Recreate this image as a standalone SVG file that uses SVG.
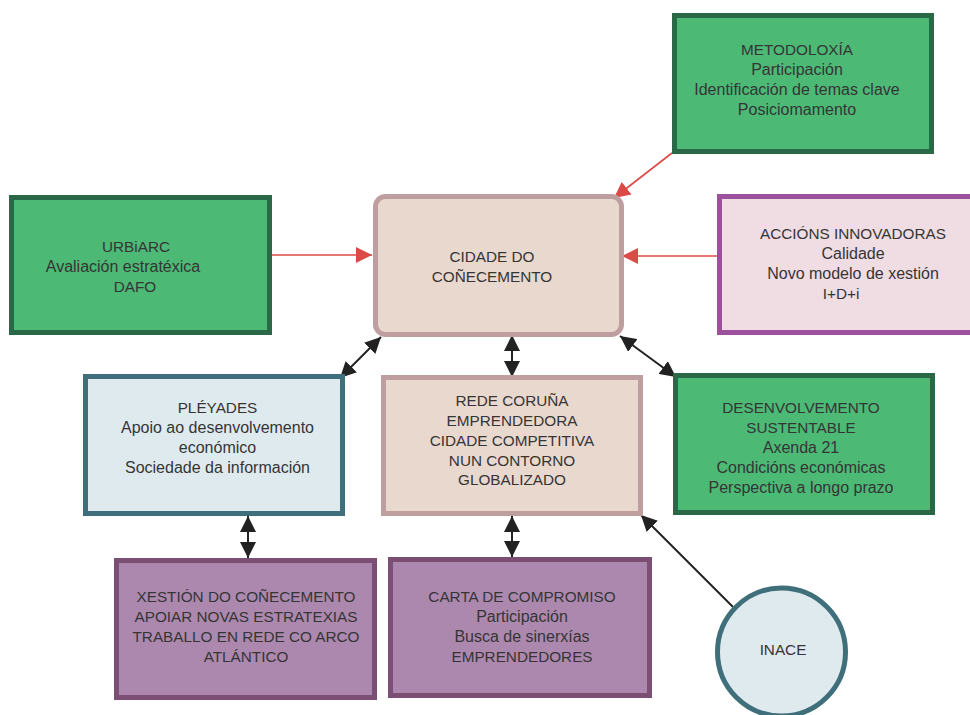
<svg xmlns="http://www.w3.org/2000/svg" width="970" height="715" viewBox="0 0 970 715">
<style>
text{font-family:"Liberation Sans",Arial,sans-serif;font-size:16px;fill:#353535;text-anchor:middle}
text.c{font-size:15.3px}
.green{fill:#4cb975;stroke:#2b6847;stroke-width:5}
.rose{fill:#e9d8ce;stroke:#bf9ea0;stroke-width:5}
.pink{fill:#f0dce3;stroke:#9c519c;stroke-width:5}
.teal{fill:#dfeaef;stroke:#3f6f7b;stroke-width:5}
.purple{fill:#ac88ae;stroke:#7b4f73;stroke-width:5}
.red{stroke:#dc4a46;stroke-width:1.6;fill:none;marker-end:url(#ar)}
.blk{stroke:#222;stroke-width:2;fill:none;marker-end:url(#ab)}
.dbl{marker-start:url(#ab)}
</style>
<defs>
<marker id="ar" viewBox="0 0 16 16" refX="16" refY="8" markerWidth="16" markerHeight="16" markerUnits="userSpaceOnUse" orient="auto"><path d="M0,0 L16,8 L0,16 z" fill="#dc4a46"/></marker>
<marker id="ab" viewBox="0 0 16 16" refX="16" refY="8" markerWidth="16" markerHeight="16" markerUnits="userSpaceOnUse" orient="auto-start-reverse"><path d="M0,0 L16,8 L0,16 z" fill="#222"/></marker>
</defs>
<g id="connectors">
<path class="red" d="M272,255 L372,255"/>
<path class="red" d="M717,256 L622,256"/>
<path class="red" d="M672,153 L614,198"/>
<path class="blk dbl" d="M381,337 L340,378"/>
<path class="blk dbl" d="M512,335 L512,377"/>
<path class="blk dbl" d="M620,336 L676,377"/>
<path class="blk dbl" d="M248,516 L248,558"/>
<path class="blk dbl" d="M512,516 L512,557"/>
<path class="blk" d="M733,607 L641,515"/>
</g>
<g id="metodoloxia">
<rect class="green" x="674.5" y="15.5" width="257" height="136"/>
<text class="c" x="797" y="55">METODOLOXÍA</text>
<text x="797" y="75">Participación</text>
<text x="797" y="95">Identificación de temas clave</text>
<text x="797" y="115">Posiciomamento</text>
</g>
<g id="urbiarc">
<rect class="green" x="11.5" y="197.5" width="258" height="135"/>
<text class="c" x="136" y="252">URBiARC</text>
<text x="123" y="272">Avaliación estratéxica</text>
<text class="c" x="135" y="292">DAFO</text>
</g>
<g id="cidade">
<rect class="rose" x="375.5" y="196.5" width="246" height="138" rx="10"/>
<text class="c" x="492" y="262">CIDADE DO</text>
<text class="c" x="492" y="282">COÑECEMENTO</text>
</g>
<g id="accions">
<rect class="pink" x="719.5" y="196.5" width="260" height="136"/>
<text class="c" x="853" y="239">ACCIÓNS INNOVADORAS</text>
<text x="853" y="259">Calidade</text>
<text x="853" y="279">Novo modelo de xestión</text>
<text class="c" x="841" y="299">I+D+i</text>
</g>
<g id="pleyades">
<rect class="teal" x="85.5" y="376.5" width="257" height="137"/>
<text class="c" x="217.5" y="413">PLÉYADES</text>
<text x="217.5" y="433">Apoio ao desenvolvemento</text>
<text x="217.5" y="453">económico</text>
<text x="217.5" y="473">Sociedade da información</text>
</g>
<g id="rede">
<rect class="rose" x="383.5" y="377.5" width="257" height="136"/>
<text class="c" x="512" y="406">REDE CORUÑA</text>
<text class="c" x="512" y="426">EMPRENDEDORA</text>
<text class="c" x="512" y="446">CIDADE COMPETITIVA</text>
<text class="c" x="512" y="466">NUN CONTORNO</text>
<text class="c" x="512" y="485">GLOBALIZADO</text>
</g>
<g id="desenvolvemento">
<rect class="green" x="675.5" y="375.5" width="257" height="137"/>
<text class="c" x="801" y="413">DESENVOLVEMENTO</text>
<text class="c" x="801" y="433">SUSTENTABLE</text>
<text x="801" y="453">Axenda 21</text>
<text x="801" y="473">Condicións económicas</text>
<text x="801" y="493">Perspectiva a longo prazo</text>
</g>
<g id="xestion">
<rect class="purple" x="116.5" y="560.5" width="258" height="137"/>
<text class="c" x="246" y="602">XESTIÓN DO COÑECEMENTO</text>
<text class="c" x="246" y="622">APOIAR NOVAS ESTRATEXIAS</text>
<text class="c" x="246" y="642">TRABALLO EN REDE CO ARCO</text>
<text class="c" x="246" y="662">ATLÁNTICO</text>
</g>
<g id="carta">
<rect class="purple" x="390.5" y="559.5" width="259" height="136"/>
<text class="c" x="522" y="602">CARTA DE COMPROMISO</text>
<text x="522" y="622">Participación</text>
<text x="522" y="642">Busca de sinerxías</text>
<text class="c" x="522" y="662">EMPRENDEDORES</text>
</g>
<g id="inace">
<circle class="teal" cx="781.5" cy="652" r="64"/>
<text class="c" x="783" y="655">INACE</text>
</g>
</svg>
